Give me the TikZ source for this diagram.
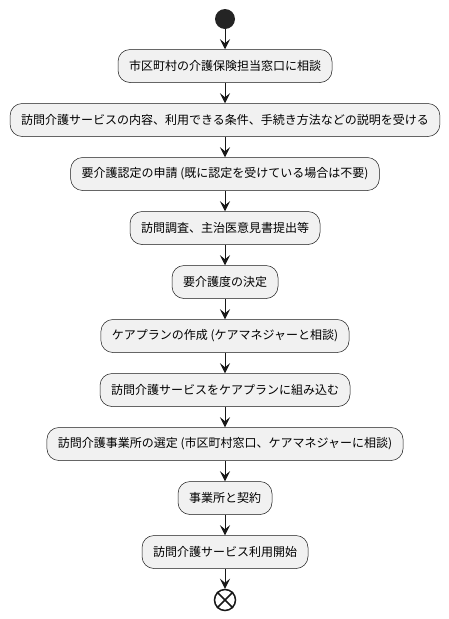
\documentclass[tikz,border=0pt]{standalone}
\usepackage{fontspec}
\setmainfont{Noto Sans CJK JP}
\usepackage{tikz}
\usetikzlibrary{positioning,arrows.meta}
\usepackage{xcolor}
\definecolor{linegray}{HTML}{181818}
\definecolor{boxgray}{HTML}{F1F1F1}

\begin{document}
\begin{tikzpicture}[x=1pt, y=-1pt, >={Stealth[length=10pt, width=10pt, inset=4pt]},
  every action/.style={draw=linegray, fill=boxgray, rounded corners=12pt,
    line width=0.5pt, minimum height=33pt, inner xsep=11pt,
    font=\fontsize{12}{14}\selectfont},
  every arrow/.style={draw=linegray, line width=1pt}]

	\useasboundingbox (0,0) rectangle (449,619);

	\node [circle, fill=linegray!95, minimum size=20pt, inner sep=0pt] (start) at (225,19) {};

	\foreach \t [count=\y] in {{市区町村の介護保険担当窓口に相談},
	    {訪問介護サービスの内容、利用できる条件、手続き方法などの説明を受ける},
	    {要介護認定の申請 (既に認定を受けている場合は不要)},
	    {訪問調査、主治医意見書提出等},
	    {要介護度の決定},
	    {ケアプランの作成 (ケアマネジャーと相談)},
	    {訪問介護サービスをケアプランに組み込む},
	    {訪問介護事業所の選定 (市区町村窓口、ケアマネジャーに相談)},
	    {事業所と契約},
	    {訪問介護サービス利用開始}}
	  \node [every action] (action-\y) at (225,12+54*\y) {\t};

	\node [circle, draw=linegray, fill=white, line width=1.5pt, minimum size=21pt, inner sep=0pt] (stop) at (225,600) {};
	\draw [linegray, line width=1.5pt] (stop.north east) -- (stop.south west)
	  (stop.north west) -- (stop.south east);

	\draw [every arrow, ->] (start) -- (action-1);

	\foreach \i [count=\j from 2] in {1,...,9}
	  \draw [every arrow, ->] (action-\i) -- (action-\j);

	\draw [every arrow, ->] (action-10) -- (stop);

\end{tikzpicture}
\end{document}
